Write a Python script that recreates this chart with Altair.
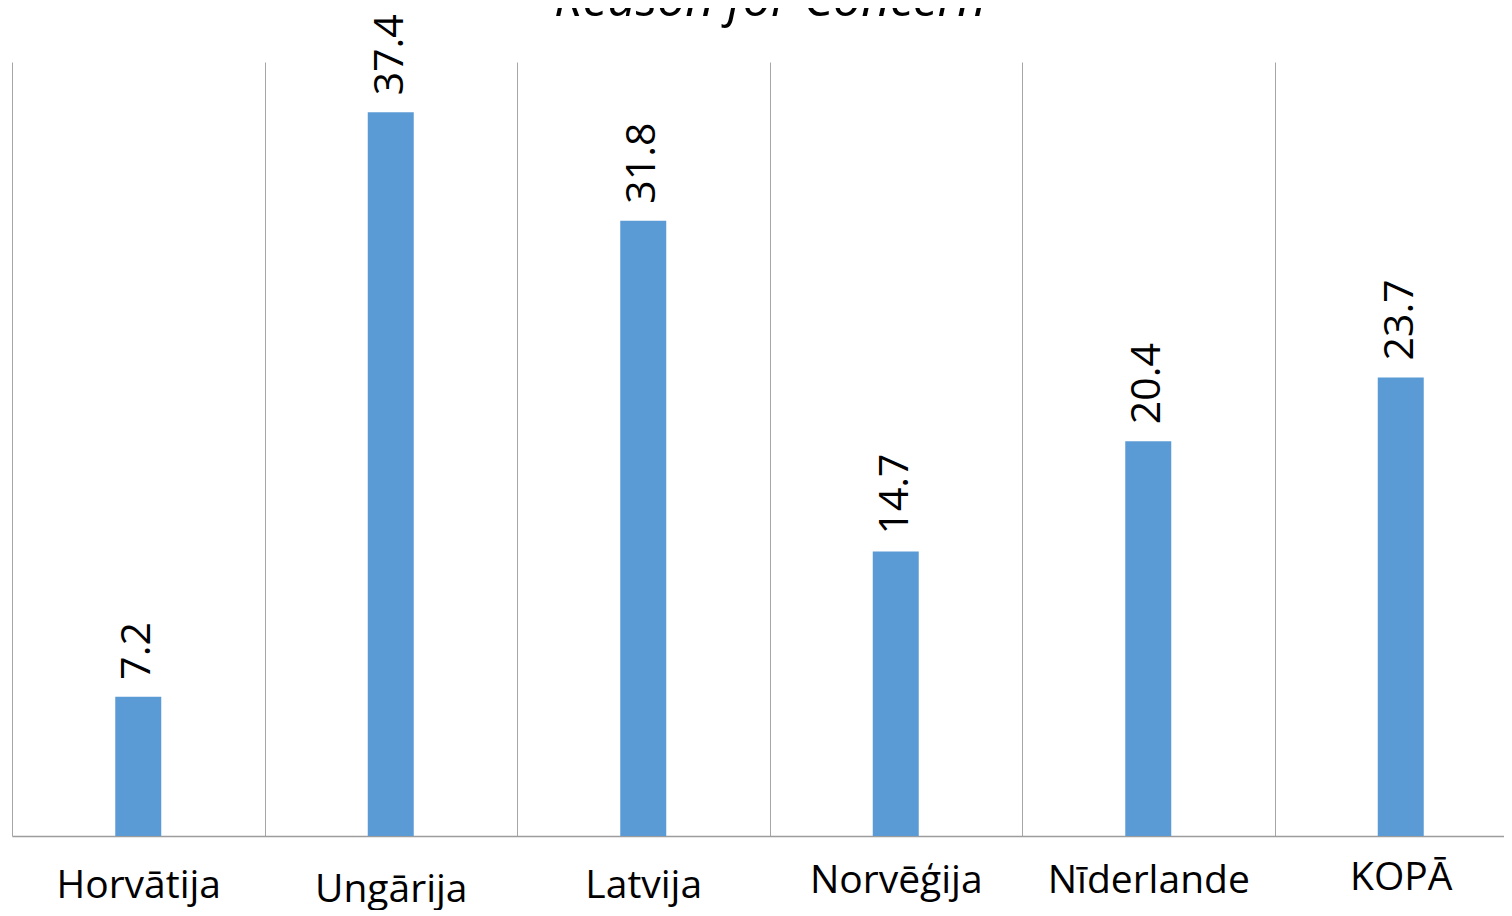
import altair as alt
import pandas as pd

countries = ["Horvātija", "Ungārija", "Latvija", "Norvēģija", "Nīderlande", "KOPĀ"]
values = [7.2, 37.4, 31.8, 14.7, 20.4, 23.7]

df = pd.DataFrame({"country": countries, "value": values})

label_pad = {
    "condition": [
        {"test": "datum.label == 'Ungārija'", "value": 34},
        {"test": "datum.label == 'Norvēģija' || datum.label == 'Nīderlande'", "value": 25},
        {"test": "datum.label == 'KOPĀ'", "value": 22},
    ],
    "value": 30,
}

x = alt.X(
    "country:N",
    sort=countries,
    title=None,
    scale=alt.Scale(range=[0, 1515], paddingInner=0, paddingOuter=0),
    axis=alt.Axis(
        tickBand="extent",
        grid=True,
        gridColor="#a6a6a6",
        gridWidth=1,
        ticks=False,
        domainColor="#9d9d9d",
        domainWidth=1.5,
        labelAngle=0,
        labelFont="Open Sans",
        labelFontSize=39,
        labelColor="black",
        labelLimit=0,
        labelPadding=label_pad,
    ),
)
y = alt.Y("value:Q", scale=alt.Scale(domain=[0, 40]), axis=None)

bars = alt.Chart(df).mark_bar(color="#5b9bd5", size=46).encode(x=x, y=y)
labels = alt.Chart(df).mark_text(
    angle=270, align="left", baseline="middle", dx=17,
    font="Open Sans", fontSize=41, color="black"
).encode(x=x, y=y, text=alt.Text("value:Q", format=".1f"))

chart = (
    alt.layer(bars, labels)
    .properties(
        width=1492,
        height=774,
        title=alt.TitleParams(
            "Reason for Concern",
            font="Open Sans",
            fontSize=50,
            fontStyle="italic",
            fontWeight="normal",
            color="black",
            frame="group",
            anchor="middle",
            baseline="alphabetic",
            offset=-52,
            dx=12,
        ),
        autosize=alt.AutoSizeParams(type="none"),
        padding={"left": 4, "top": 54, "right": 0, "bottom": 74},
    )
    .configure_view(stroke=None)
)

chart.save("out.html", embed_options={"renderer": "svg", "actions": False})
